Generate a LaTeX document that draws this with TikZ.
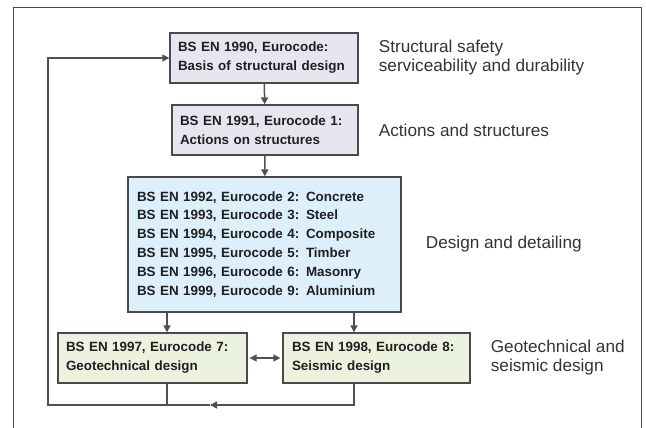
\documentclass[tikz,border=0pt]{standalone}
\usepackage{fontspec}
\setmainfont{Liberation Sans}
\usetikzlibrary{positioning,arrows.meta}
\definecolor{boxline}{HTML}{4A4A4A}
\definecolor{linkgray}{HTML}{505050}
\definecolor{lavender}{HTML}{E8E5F1}
\definecolor{paleblue}{HTML}{DDEFFA}
\definecolor{palegreen}{HTML}{EBF3E0}
\definecolor{labelgray}{HTML}{333333}
\begin{document}
\begin{tikzpicture}[x=1pt,y=1pt,
  ecbox/.style={draw=boxline,line width=1.3pt,inner xsep=8pt,inner ysep=0pt,align=left,
    text=black!88,font=\fontsize{13.4}{18.9}\selectfont\bfseries},
  sidelbl/.style={anchor=west,inner sep=0pt,align=left,text=labelgray,
    font=\fontsize{17.2}{19}\selectfont},
  link/.style={draw=linkgray,line width=1.5pt},
  arr/.style={link,-{Triangle[length=7pt,width=7pt]}}]
\useasboundingbox (0,0) rectangle (646,428);
% frame
\draw[boxline,line width=0.9pt] (13,0) -- (13,421) -- (641,421) -- (641,0);
% eurocode boxes
\node[ecbox,fill=lavender,text width=172pt,minimum height=50pt] (en1990) at (264,370)
  {BS EN 1990, Eurocode:\\Basis of structural design};
\node[ecbox,fill=lavender,text width=170pt,minimum height=50pt] (en1991) at (265,298)
  {BS EN 1991, Eurocode 1:\\Actions on structures};
\node[ecbox,fill=paleblue,text width=255pt,minimum height=135pt,inner xsep=9pt] (en1992) at (264.5,183.5)
  {BS EN 1992, Eurocode 2: Concrete\\BS EN 1993, Eurocode 3: Steel\\BS EN 1994, Eurocode 4: Composite\\
   BS EN 1995, Eurocode 5: Timber\\BS EN 1996, Eurocode 6: Masonry\\BS EN 1999, Eurocode 9: Aluminium};
\node[ecbox,fill=palegreen,text width=173pt,minimum height=50pt] (en1997) at (152.5,70)
  {BS EN 1997, Eurocode 7:\\Geotechnical design};
\node[ecbox,fill=palegreen,text width=169pt,minimum height=50pt,inner xsep=9pt] (en1998) at (376.5,70)
  {BS EN 1998, Eurocode 8:\\Seismic design};
% side labels
\node[sidelbl,right=20pt of en1990] (safety) {Structural safety\\serviceability and durability};
\node[sidelbl,right=20pt of en1991] (actions) {Actions and structures};
\node[sidelbl,right=24pt of en1992] (detailing) {Design and detailing};
\node[sidelbl,right=20pt of en1998] (geoseis) {Geotechnical and\\seismic design};
% connectors
\coordinate (gx) at (167,0);
\coordinate (sx) at (354,0);
\coordinate (lx) at (48,0);
\coordinate (by) at (0,23);
\coordinate (midarr) at (210,23);
\draw[arr] (en1990) -- (en1991);
\draw[arr] (en1991) -- (en1992);
\draw[arr] (en1992.south -| gx) -- (en1997.north -| gx);
\draw[arr] (en1992.south -| sx) -- (en1998.north -| sx);
\draw[arr,{Triangle[length=7pt,width=7pt]}-{Triangle[length=7pt,width=7pt]},shorten <=2pt,shorten >=2pt] (en1997) -- (en1998);
\draw[link] (en1997.south -| gx) -- (gx |- by);
\draw[arr] (en1998.south -| sx) -- (sx |- by) -- (midarr);
\draw[arr] (midarr) -- (lx |- by) -- (lx |- en1990.west) -- (en1990.west);
\end{tikzpicture}
\end{document}
